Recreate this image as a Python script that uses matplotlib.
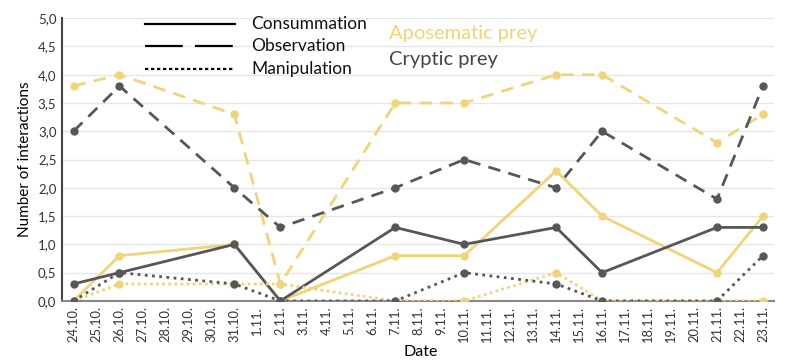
import numpy as np
import matplotlib.pyplot as plt
from matplotlib.lines import Line2D

plt.rcParams['font.family'] = ['Lato', 'DejaVu Sans']

# daily tick labels
dates = ['24.10.', '25.10.', '26.10.', '27.10.', '28.10.', '29.10.', '30.10.', '31.10.',
         '1.11.', '2.11.', '3.11.', '4.11.', '5.11.', '6.11.', '7.11.', '8.11.', '9.11.',
         '10.11.', '11.11.', '12.11.', '13.11.', '14.11.', '15.11.', '16.11.', '17.11.',
         '18.11.', '19.11.', '20.11.', '21.11.', '22.11.', '23.11.']
# days with observations
obs_days = ['24.10.', '26.10.', '31.10.', '2.11.', '7.11.', '10.11.', '14.11.', '16.11.', '21.11.', '23.11.']

apo_observation = [3.8, 4.0, 3.3, 0.3, 3.5, 3.5, 4.0, 4.0, 2.8, 3.3]
cry_observation = [3.0, 3.8, 2.0, 1.3, 2.0, 2.5, 2.0, 3.0, 1.8, 3.8]
apo_consummation = [0.0, 0.8, 1.0, 0.0, 0.8, 0.8, 2.3, 1.5, 0.5, 1.5]
cry_consummation = [0.3, 0.5, 1.0, 0.0, 1.3, 1.0, 1.3, 0.5, 1.3, 1.3]
apo_manipulation = [0.0, 0.3, 0.3, 0.3, 0.0, 0.0, 0.5, 0.0, 0.0, 0.0]
cry_manipulation = [0.0, 0.5, 0.3, 0.0, 0.0, 0.5, 0.3, 0.0, 0.0, 0.8]

yellow = '#F2D478'
grey = '#575757'

fig = plt.figure(figsize=(7.89, 3.63), dpi=100)
ax = fig.add_axes([0.0786, 0.171, 0.903, 0.779])

xpos = [dates.index(d) for d in obs_days]

series = [
    (apo_observation, yellow, (0, (4.5, 3))),
    (cry_observation, grey, (0, (4.5, 3))),
    (apo_consummation, yellow, '-'),
    (cry_consummation, grey, '-'),
    (apo_manipulation, yellow, (0, (1, 1.2))),
    (cry_manipulation, grey, (0, (1, 1.6))),
]
for vals, col, ls in series:
    ax.plot(xpos, vals, color=col, lw=2.0, linestyle=ls, dash_capstyle='butt',
            marker='o', markersize=5, zorder=3)

ax.set_xlim(-0.5, 30.5)
ax.set_ylim(0, 5)
ax.set_yticks(np.arange(0, 5.01, 0.5))
ax.set_yticklabels([f'{v:.1f}'.replace('.', ',') for v in np.arange(0, 5.01, 0.5)],
                   fontsize=9.5, color='#333333')
ax.set_xticks(range(len(dates)))
ax.set_xticklabels(dates, rotation=90, fontsize=9.3, color='#333333')
ax.tick_params(length=0, pad=4)
ax.grid(axis='y', color='#e6e6e6', lw=1)
ax.set_axisbelow(True)
for s in ['top', 'right']:
    ax.spines[s].set_visible(False)
ax.spines['left'].set_color('#444444')
ax.spines['left'].set_linewidth(1.5)
ax.spines['bottom'].set_color('#888888')
ax.spines['bottom'].set_linewidth(1.5)

ax.set_ylabel('Number of interactions', fontsize=11, labelpad=4)
ax.text(0.503, -0.18, 'Date', transform=ax.transAxes, fontsize=11.5,
        ha='center', va='center')

# line style key
keys = [('Consummation', '-'), ('Observation', (0, (17, 5.5))), ('Manipulation', (0, (1.5, 1.2)))]
for i, (lab, ls) in enumerate(keys):
    yk = 0.934 - i * 0.062
    fig.add_artist(Line2D([0.184, 0.298], [yk, yk], color='black', lw=1.6, linestyle=ls))
    fig.text(0.318, yk, lab, fontsize=12.5, va='center', color='#111111')

fig.text(0.493, 0.907, 'Aposematic prey', fontsize=14.5, color=yellow, va='center')
fig.text(0.493, 0.835, 'Cryptic prey', fontsize=14.5, color='#444444', va='center')

fig.savefig('out.png', dpi=100)
